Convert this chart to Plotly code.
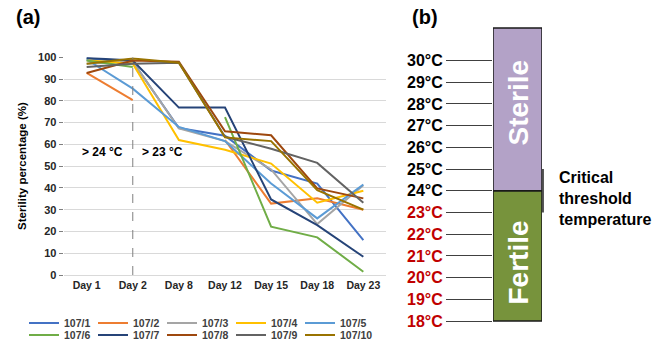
import plotly.graph_objects as go

# ---------------- data ----------------
days = ["Day 1", "Day 2", "Day 8", "Day 12", "Day 15", "Day 18", "Day 23"]
series_names = ["107/1", "107/2", "107/3", "107/4", "107/5",
                "107/6", "107/7", "107/8", "107/9", "107/10"]
s107_1 = [99.5, 98, 67.5, 64, 48, 42, 16]
s107_2 = [92.8, 80.3, None, 62, 32.8, 35.2, 30]
s107_3 = [97, 98, 67.3, 61.5, 48.5, 23.4, 41.2]
s107_4 = [98.6, 97, 62, 57.5, 51.2, 33.2, 38.7]
s107_5 = [99, 85.6, 68, 61.5, 42, 26, 41.6]
s107_6 = [98.5, 95.5, None, 72.5, 22.2, 17.3, 1.5]
s107_7 = [99.7, 98.5, 76.9, 76.9, 34.7, 22.9, 8.4]
s107_8 = [92.8, 98.5, 98, 66, 64.2, 39.8, 35.2]
s107_9 = [95.5, 97, 97.5, 63.5, 58, 51.5, 33.2]
s107_10 = [97, 99.5, 97.5, 63.2, 61.5, 39, 30]
series_values = [s107_1, s107_2, s107_3, s107_4, s107_5,
                 s107_6, s107_7, s107_8, s107_9, s107_10]
y_ticks = [0, 10, 20, 30, 40, 50, 60, 70, 80, 90, 100]

temps = [18, 19, 20, 21, 22, 23, 24, 25, 26, 27, 28, 29, 30]
threshold = 24
fertile_range = [18, 24]
sterile_range = [24, 31.5]

# ---------------- styles ----------------
colors = ["#4472C4", "#ED7D31", "#A5A5A5", "#FFC000", "#5B9BD5",
          "#70AD47", "#264478", "#9E480E", "#636363", "#997300"]
FONT = "Liberation Sans, Arial, sans-serif"
W, H = 665, 352

def px_x(p):
    return p / W

def px_y(p):
    return 1 - p / H

fig = go.Figure()

for i, (name, vals) in enumerate(zip(series_names, series_values)):
    fig.add_trace(go.Scatter(
        x=days, y=vals, name=name, mode="lines",
        line=dict(color=colors[i], width=2),
        connectgaps=False,
        xaxis="x", yaxis="y",
        legend="legend" if i < 5 else "legend2",
    ))

# empty spacer entry so the last legend label is not clipped
fig.add_trace(go.Scatter(
    x=[None], y=[None], name="", mode="lines", line=dict(width=0, color="rgba(0,0,0,0)"),
    xaxis="x", yaxis="y", legend="legend2", showlegend=True, hoverinfo="skip",
))

# panel (b) bars
fig.add_trace(go.Bar(
    x=["b"], y=[fertile_range[1] - fertile_range[0]], base=[fertile_range[0]],
    marker=dict(color="#77933C", line=dict(color="#1a1a1a", width=1.5)),
    width=1, xaxis="x2", yaxis="y2", showlegend=False, hoverinfo="skip",
))
fig.add_trace(go.Bar(
    x=["b"], y=[sterile_range[1] - sterile_range[0]], base=[sterile_range[0]],
    marker=dict(color="#B3A2C7", line=dict(color="#1a1a1a", width=1.5)),
    width=1, xaxis="x2", yaxis="y2", showlegend=False, hoverinfo="skip",
))

temp_text = []
for t in temps:
    if t < threshold:
        temp_text.append(f"<span style='color:#C00000'>{t}°C</span>")
    else:
        temp_text.append(f"{t}°C")

legend_common = dict(
    orientation="h", xanchor="left", yanchor="middle",
    bgcolor="rgba(0,0,0,0)", entrywidth=24, entrywidthmode="pixels",
    font=dict(family=FONT, size=10.5, color="#404040", weight="bold"),
    tracegroupgap=0, itemwidth=30,
)

fig.update_layout(
    width=W, height=H,
    margin=dict(l=0, r=0, t=0, b=0, autoexpand=False),
    paper_bgcolor="white", plot_bgcolor="white",
    barmode="overlay",
    font=dict(family=FONT, color="black"),
    xaxis=dict(
        domain=[px_x(63.6), px_x(386.4)], type="category",
        categoryorder="array", categoryarray=days,
        range=[-0.5, 6.5], showgrid=False, zeroline=False,
        showline=True, linecolor="#D9D9D9", linewidth=1,
        ticks="", tickfont=dict(family=FONT, size=10.5, color="#262626", weight="bold"),
        anchor="y", fixedrange=True, automargin=False,
    ),
    yaxis=dict(
        domain=[px_y(275), px_y(57.3)], range=[0, 100],
        tickvals=y_ticks, showgrid=True, gridcolor="#D9D9D9", gridwidth=1,
        zeroline=False, showline=False, ticks="outside", ticklen=4,
        tickcolor="#7F7F7F", tickfont=dict(family=FONT, size=11, color="#262626", weight="bold"),
        anchor="x", fixedrange=True, automargin=False,
    ),
    xaxis2=dict(
        domain=[px_x(493), px_x(542)], type="category", range=[-0.5, 0.5],
        showticklabels=False, showgrid=False, zeroline=False, showline=False,
        anchor="y2", fixedrange=True, automargin=False,
    ),
    yaxis2=dict(
        domain=[px_y(324.3), px_y(25.8)], range=[17.85, 31.6],
        tickvals=temps, ticktext=temp_text,
        showgrid=False, zeroline=False, showline=False,
        ticks="outside", ticklen=46, tickwidth=1.3, tickcolor="#404040",
        tickfont=dict(family=FONT, size=16, color="black", weight="bold"),
        anchor="x2", fixedrange=True, automargin=False,
    ),
    legend=dict(x=px_x(24), y=px_y(323), **legend_common),
    legend2=dict(x=px_x(24), y=px_y(335), **legend_common),
    showlegend=True,
)

# dashed separator at Day 2
fig.add_shape(type="line", xref="x", yref="y", x0="Day 2", x1="Day 2", y0=0, y1=100,
              line=dict(color="#7F7F7F", width=1, dash="dash"))
# critical threshold bracket
fig.add_shape(type="line", xref="x2 domain", yref="y2", x0=1.02, x1=1.02, y0=23, y1=25,
              line=dict(color="#1a1a1a", width=1.5))

annots = [
    dict(text="> 24 °C", x=px_x(102), y=px_y(152), xref="paper", yref="paper",
         font=dict(size=12, weight="bold", color="black")),
    dict(text="> 23 °C", x=px_x(162), y=px_y(152), xref="paper", yref="paper",
         font=dict(size=12, weight="bold", color="black")),
    dict(text="Sterility percentage (%)", x=px_x(22), y=px_y(166), xref="paper", yref="paper",
         textangle=-90, font=dict(size=11.5, weight="bold", color="black")),
    dict(text="(a)", x=px_x(28), y=px_y(17), xref="paper", yref="paper",
         font=dict(size=20, weight="bold", color="black")),
    dict(text="(b)", x=px_x(425), y=px_y(17), xref="paper", yref="paper",
         font=dict(size=20, weight="bold", color="black")),
    dict(text="Sterile", x=px_x(517.5), y=px_y(103), xref="paper", yref="paper",
         textangle=-90, font=dict(size=28, weight="bold", color="white")),
    dict(text="Fertile", x=px_x(517.5), y=px_y(263), xref="paper", yref="paper",
         textangle=-90, font=dict(size=28, weight="bold", color="white")),
    dict(text="Critical<br>threshold<br>temperature", x=px_x(557), y=px_y(198),
         xref="paper", yref="paper", xanchor="left", align="left",
         font=dict(size=16, weight="bold", color="black")),
]
for a in annots:
    a.setdefault("xanchor", "center")
    a.setdefault("yanchor", "middle")
    a["showarrow"] = False
    a["font"]["family"] = FONT
    fig.add_annotation(**a)

fig.write_html("out.html", config={"displayModeBar": False},
               post_script="document.body.style.margin='0px';")
